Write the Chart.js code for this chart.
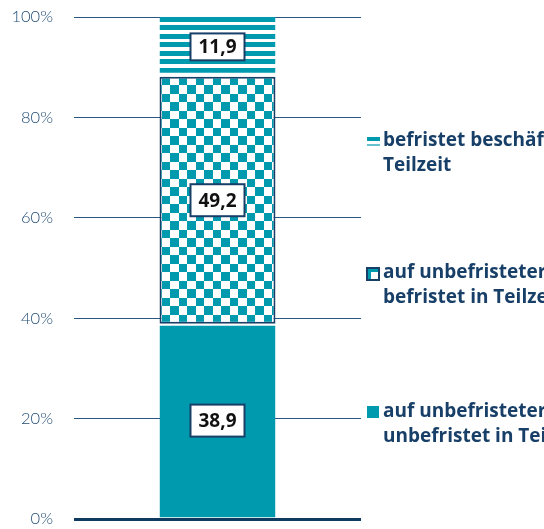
<!DOCTYPE html>
<html lang="de">
<head>
<meta charset="utf-8">
<script src="https://cdn.jsdelivr.net/npm/chart.js@4"></script>
<style>
  html, body { margin: 0; padding: 0; background: #fff; }
  #wrap { width: 544px; height: 529px; position: relative; }
</style>
</head>
<body>
<div id="wrap"><canvas id="chart"></canvas></div>
<script>
// data (shares in %)
const categories = [''];
const seriesLabels = [
    ['auf unbefristeter Stelle,', 'unbefristet in Teilzeit'],
    ['auf unbefristeter Stelle,', 'befristet in Teilzeit'],
    ['befristet beschäftigt in', 'Teilzeit']
];
const unbefristetTeilzeit = [38.9];
const befristetTeilzeit = [49.2];
const befristetBeschaeftigt = [11.9];
const tickValues = [0, 20, 40, 60, 80, 100];

const TEAL = '#009aae';
const NAVY = '#173f68';

// pattern fills (17px repeat, whole pixels so the edges stay crisp)
function makePattern(draw) {
    const c = document.createElement('canvas');
    c.width = 17; c.height = 17;
    const g = c.getContext('2d');
    g.fillStyle = '#fff';
    g.fillRect(0, 0, 17, 17);
    g.fillStyle = TEAL;
    draw(g);
    return document.getElementById('chart').getContext('2d').createPattern(c, 'repeat');
}
const checker = makePattern(g => {
    g.fillRect(0, 0, 9, 9);
    g.fillRect(9, 9, 8, 8);
});
const stripes = makePattern(g => {
    g.fillRect(0, 0, 17, 5);
    g.fillRect(0, 8, 17, 5);
});

// white boxes with the values
const valueBoxes = {
    id: 'valueBoxes',
    afterDatasetsDraw(chart) {
        const ctx = chart.ctx;
        ctx.save();
        ctx.font = 'bold 19px "Open Sans", "DejaVu Sans", sans-serif';
        ctx.textAlign = 'center';
        ctx.textBaseline = 'middle';
        chart.data.datasets.forEach((ds, i) => {
            const bar = chart.getDatasetMeta(i).data[0];
            const cy = (bar.y + bar.base) / 2;
            const txt = ds.data[0].toFixed(1).replace('.', ',');
            const w = ctx.measureText(txt).width + 16;
            const h = Math.min(32, Math.abs(bar.base - bar.y) * 0.45);
            ctx.fillStyle = '#fff';
            ctx.fillRect(bar.x - w / 2, cy - h / 2, w, h);
            ctx.strokeStyle = NAVY;
            ctx.lineWidth = 2;
            ctx.strokeRect(bar.x - w / 2, cy - h / 2, w, h);
            ctx.fillStyle = '#111';
            ctx.fillText(txt, bar.x, cy + 1);
        });
        ctx.restore();
    }
};

// legend on the right side
const sideLegend = {
    id: 'sideLegend',
    afterDraw(chart) {
        const ctx = chart.ctx;
        const x = chart.chartArea.right + 6;
        const rows = [
            { y: 412, type: 'solid', text: seriesLabels[0] },
            { y: 273, type: 'checker', text: seriesLabels[1] },
            { y: 141, type: 'stripes', text: seriesLabels[2] }
        ];
        ctx.save();
        rows.forEach(r => {
            if (r.type === 'solid') {
                ctx.fillStyle = TEAL;
                ctx.fillRect(x, r.y - 6, 12, 12);
            } else if (r.type === 'checker') {
                ctx.fillStyle = '#fff';
                ctx.fillRect(x, r.y - 5, 12, 12);
                ctx.fillStyle = TEAL;
                ctx.fillRect(x, r.y - 5, 12, 4);
                ctx.fillRect(x, r.y - 5, 4, 12);
                ctx.strokeStyle = NAVY;
                ctx.lineWidth = 2;
                ctx.strokeRect(x, r.y - 5, 12, 12);
            } else {
                ctx.fillStyle = TEAL;
                ctx.fillRect(x, r.y - 4, 13, 4);
                ctx.globalAlpha = 0.6;
                ctx.fillRect(x, r.y + 3, 13, 2);
                ctx.globalAlpha = 1;
            }
            ctx.fillStyle = NAVY;
            ctx.font = 'bold 19px "Open Sans", "DejaVu Sans", sans-serif';
            ctx.textBaseline = 'middle';
            ctx.textAlign = 'left';
            r.text.forEach((line, k) => ctx.fillText(line, x + 16, r.y + k * 25));
        });
        ctx.restore();
    }
};

const chart = new Chart(document.getElementById('chart'), {
    type: 'bar',
    data: {
        labels: categories,
        datasets: [
            {
                label: seriesLabels[0].join(' '),
                data: unbefristetTeilzeit,
                backgroundColor: TEAL,
                borderColor: '#fff',
                borderWidth: { top: 2, left: 0, right: 0, bottom: 0 },
                borderSkipped: false
            },
            {
                label: seriesLabels[1].join(' '),
                data: befristetTeilzeit,
                backgroundColor: checker,
                borderColor: NAVY,
                borderWidth: 2,
                borderSkipped: false
            },
            {
                label: seriesLabels[2].join(' '),
                data: befristetBeschaeftigt,
                backgroundColor: stripes,
                borderColor: '#fff',
                borderWidth: { top: 0, left: 0, right: 0, bottom: 4 },
                borderSkipped: false
            }
        ]
    },
    options: {
        responsive: true,
        maintainAspectRatio: false,
        animation: false,
        barPercentage: 0.404,
        categoryPercentage: 1,
        layout: { padding: { top: 17, right: 183, bottom: 10, left: 0 } },
        plugins: {
            legend: { display: false },
            tooltip: { enabled: false }
        },
        scales: {
            x: {
                display: false,
                stacked: true
            },
            y: {
                stacked: true,
                min: 0,
                max: 100,
                afterFit(scale) {
                    scale.width = 74;
                    // tick padding is horizontal only here
                    scale.paddingTop = 0;
                    scale.paddingBottom = 0;
                },
                afterBuildTicks(scale) { scale.ticks = tickValues.map(v => ({ value: v })); },
                border: { display: false },
                grid: {
                    drawTicks: false,
                    color: ctx => ctx.tick && ctx.tick.value === 0 ? '#0e3a5f' : '#2c5680',
                    lineWidth: ctx => ctx.tick && ctx.tick.value === 0 ? 3 : 1
                },
                ticks: {
                    padding: 21,
                    color: '#1f4a74',
                    font: { family: 'Lato, "Open Sans", sans-serif', size: 16.5, weight: 300 },
                    callback: v => v + '%'
                }
            }
        }
    },
    plugins: [valueBoxes, sideLegend]
});
</script>
</body>
</html>
